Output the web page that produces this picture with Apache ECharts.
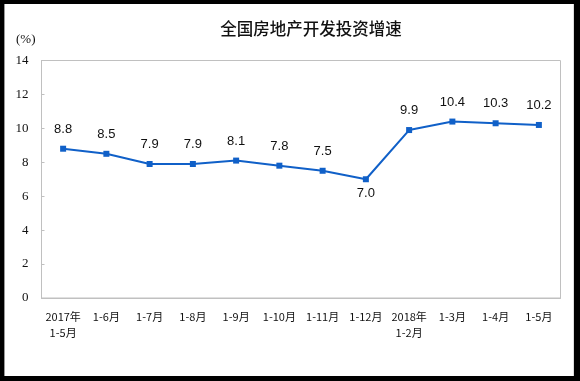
<!DOCTYPE html>
<html><head><meta charset="utf-8">
<script src="https://cdn.jsdelivr.net/npm/echarts@6/dist/echarts.min.js"></script>
<style>
html,body{margin:0;padding:0;background:#000;width:580px;height:381px;overflow:hidden;}
#bg{position:absolute;left:4px;top:4px;width:568px;height:372px;background:#fff;border-left:1px solid #999;border-right:1px solid #ddd;}
#c{position:absolute;left:0;top:0;width:580px;height:381px;}
</style></head>
<body><div id="bg"></div><div id="c"></div>
<script>
const categories = ['2017年\n1-5月','1-6月','1-7月','1-8月','1-9月','1-10月','1-11月','1-12月','2018年\n1-2月','1-3月','1-4月','1-5月'];
const growth = [8.8, 8.5, 7.9, 7.9, 8.1, 7.8, 7.5, 7.0, 9.9, 10.4, 10.3, 10.2];
const titleText = '全国房地产开发投资增速';
const unitText = '(%)';

const chart = echarts.init(document.getElementById('c'), null, {renderer:'canvas'});
const seriesData = growth.map((v,i)=> i===7 ? {value:v,label:{position:'bottom',distance:5}} : v);
chart.setOption({
  animation:false,
  title:{text:titleText,left:306,top:15,textAlign:'center',
    textStyle:{fontFamily:'Noto Sans CJK SC',fontSize:16.5,fontWeight:500,color:'#111'}},
  grid:{left:41.5,right:19.5,top:60.5,bottom:83,show:true,borderColor:'#c0c0c0',borderWidth:1,containLabel:false},
  xAxis:{type:'category',data:categories,boundaryGap:true,
    axisLine:{lineStyle:{color:'#c0c0c0'}},
    axisTick:{inside:true,length:4,lineStyle:{color:'#c0c0c0'}},
    axisLabel:{fontFamily:'Noto Sans CJK SC',fontSize:11,color:'#111',margin:11,lineHeight:16,interval:0}},
  yAxis:{type:'value',min:0,max:14,interval:2,name:unitText,nameLocation:'end',nameGap:14,
    nameTextStyle:{fontFamily:'Liberation Serif',fontSize:13,color:'#111',align:'right',padding:[0,6,0,0]},
    axisLine:{show:true,lineStyle:{color:'#c0c0c0'}},
    axisTick:{show:true,inside:true,length:3,lineStyle:{color:'#c0c0c0'}},
    splitLine:{show:false},
    axisLabel:{fontFamily:'Liberation Serif',fontSize:13,color:'#111',margin:13}},
  series:[{type:'line',data:seriesData,symbol:'rect',symbolSize:6,
    lineStyle:{color:'#1060c8',width:2},itemStyle:{color:'#1060c8'},
    label:{show:true,position:'top',distance:10,fontFamily:'Liberation Sans',fontSize:13,color:'#111',
      formatter:p=>Number(p.value).toFixed(1)}}]
});
</script></body></html>
